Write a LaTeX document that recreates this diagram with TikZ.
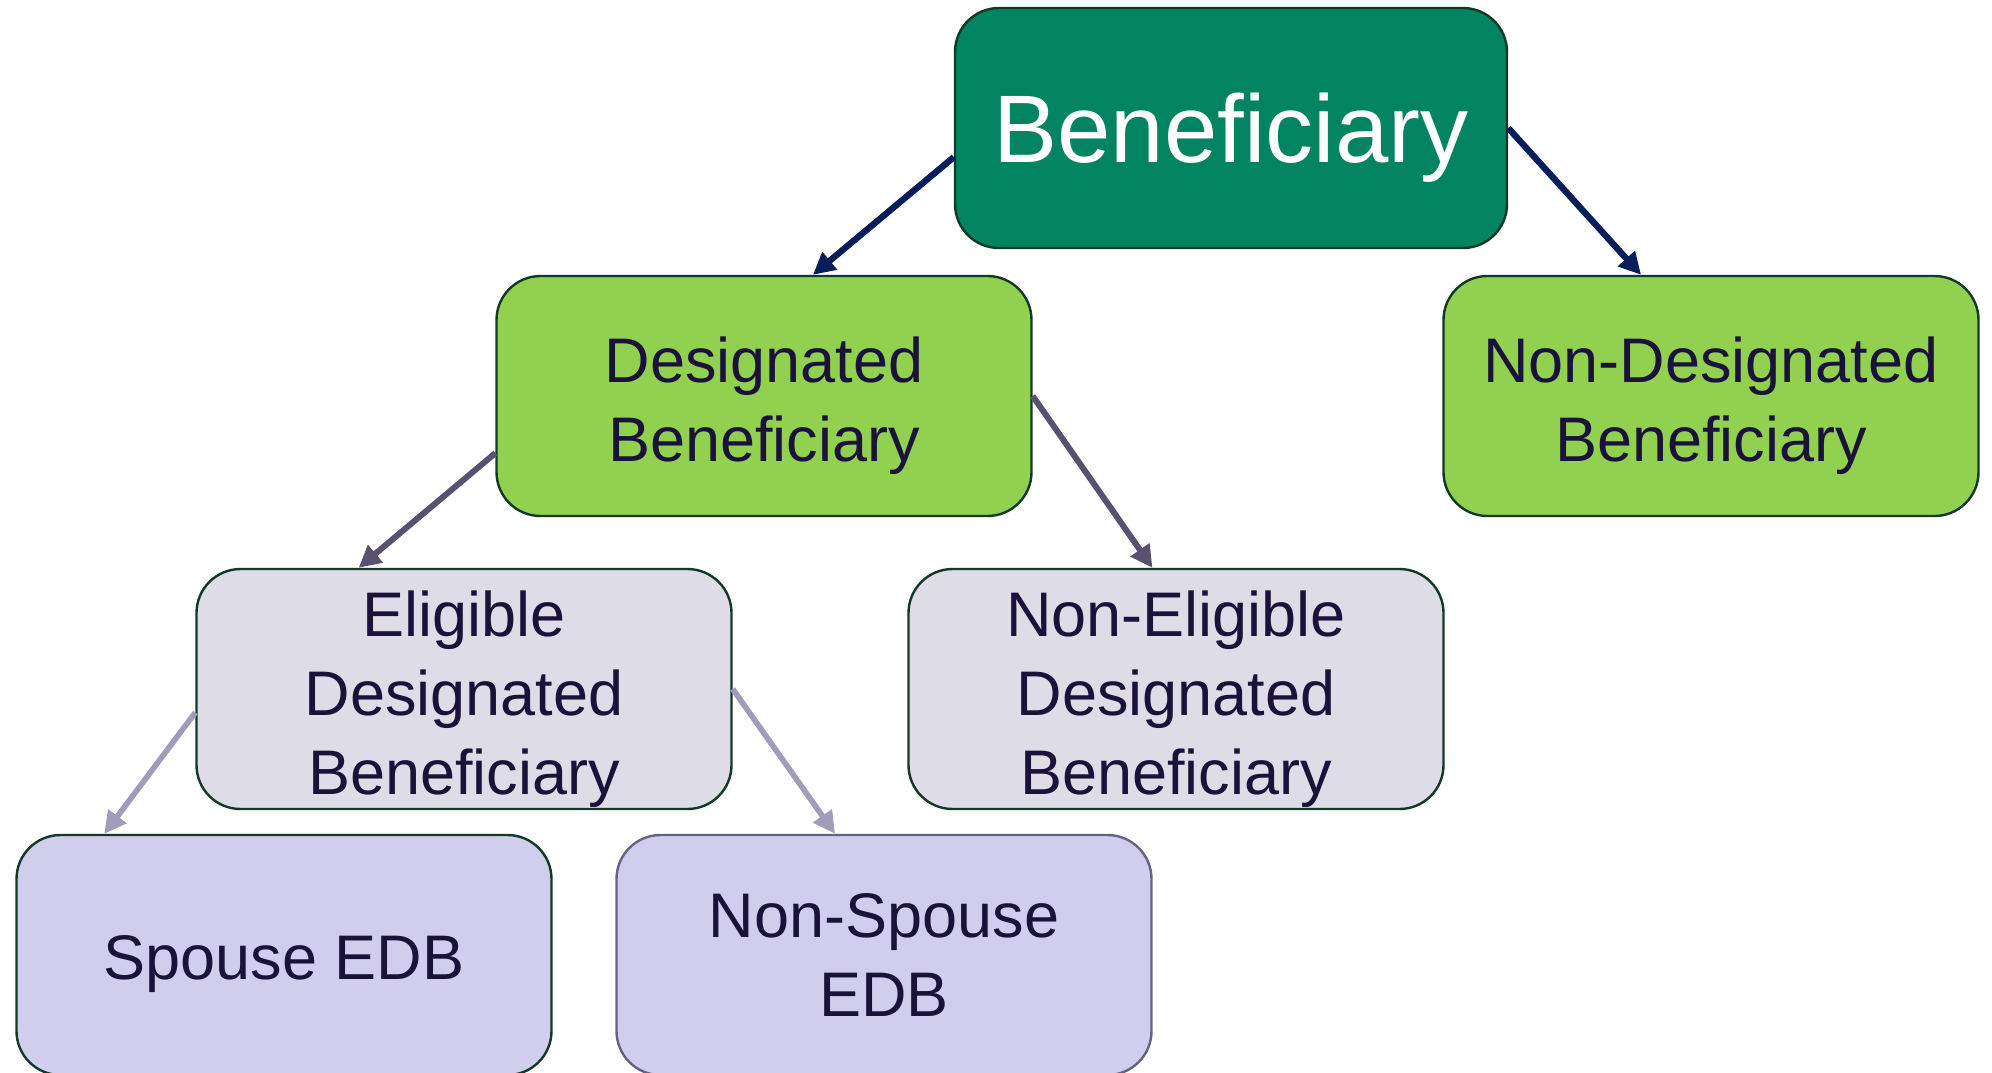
\documentclass[tikz,border=0pt]{standalone}
\usepackage{fontspec}
\setmainfont{Liberation Sans}
\usetikzlibrary{arrows.meta}

\definecolor{topgreen}{RGB}{3,132,97}
\definecolor{midgreen}{RGB}{146,208,80}
\definecolor{greybox}{RGB}{222,220,231}
\definecolor{lilacbox}{RGB}{208,206,236}
\definecolor{edgegreen}{RGB}{16,58,38}
\definecolor{edgelilac}{RGB}{104,98,130}
\definecolor{inknavy}{RGB}{26,18,56}
\definecolor{arrownavy}{RGB}{8,30,92}
\definecolor{arrowslate}{RGB}{88,82,112}
\definecolor{arrowlilac}{RGB}{160,156,186}

% a strut that pushes the first line down a little
\newcommand{\lift}[1]{\rule{0pt}{#1}}

\tikzset{
  tier/.style={draw=edgegreen, line width=1.2pt, rounded corners=22pt,
    minimum width=267.5pt, minimum height=120pt, inner sep=0pt,
    align=center, text=inknavy, font=\fontsize{31.5}{39.5}\selectfont},
  link/.style={line width=3.2pt, -{Triangle[length=11pt,width=11pt]}}
}

\begin{document}
\begin{tikzpicture}[x=0.5pt,y=-0.5pt]

      \useasboundingbox (0,0) rectangle (1992,1072);

      % The root.
      \node[tier, fill=topgreen, text=white, minimum width=276pt,
        font=\fontsize{48}{58}\selectfont] (ben) at (1231,128) {\lift{44pt}Beneficiary};

      % The second row.
      \node[tier, fill=midgreen] (desig) at (764,396) {\lift{33pt}Designated\\Beneficiary};
      \node[tier, fill=midgreen] (nondesig) at (1711,396) {\lift{33pt}Non-Designated\\Beneficiary};

      % The third row.
      \node[tier, fill=greybox] (elig) at (464,689) {\lift{33pt}Eligible\\Designated\\Beneficiary};
      \node[tier, fill=greybox] (nonelig) at (1176,689) {\lift{33pt}Non-Eligible\\Designated\\Beneficiary};

      % The bottom row, cut by the page edge.
      \node[tier, fill=lilacbox] (spouse) at (284,955) {\lift{31pt}Spouse EDB};
      \node[tier, fill=lilacbox, draw=edgelilac] (nonspouse) at (884,955) {Non-Spouse\\EDB};

      % The arrows.
      \draw[link, arrownavy] (ben.186) -- (desig.68);
      \draw[link, arrownavy] (ben.east) -- (nondesig.120.5);
      \draw[link, arrowslate, line width=3pt] (desig.192.5) -- (elig.131.5);
      \draw[link, arrowslate, line width=3pt] (desig.east) -- (nonelig.101.6);
      \draw[link, arrowlilac, line width=2.8pt] (elig.185.3) -- (spouse.146.9);
      \draw[link, arrowlilac, line width=2.8pt] (elig.east) -- (nonspouse.112.7);

    \end{tikzpicture}
\end{document}
